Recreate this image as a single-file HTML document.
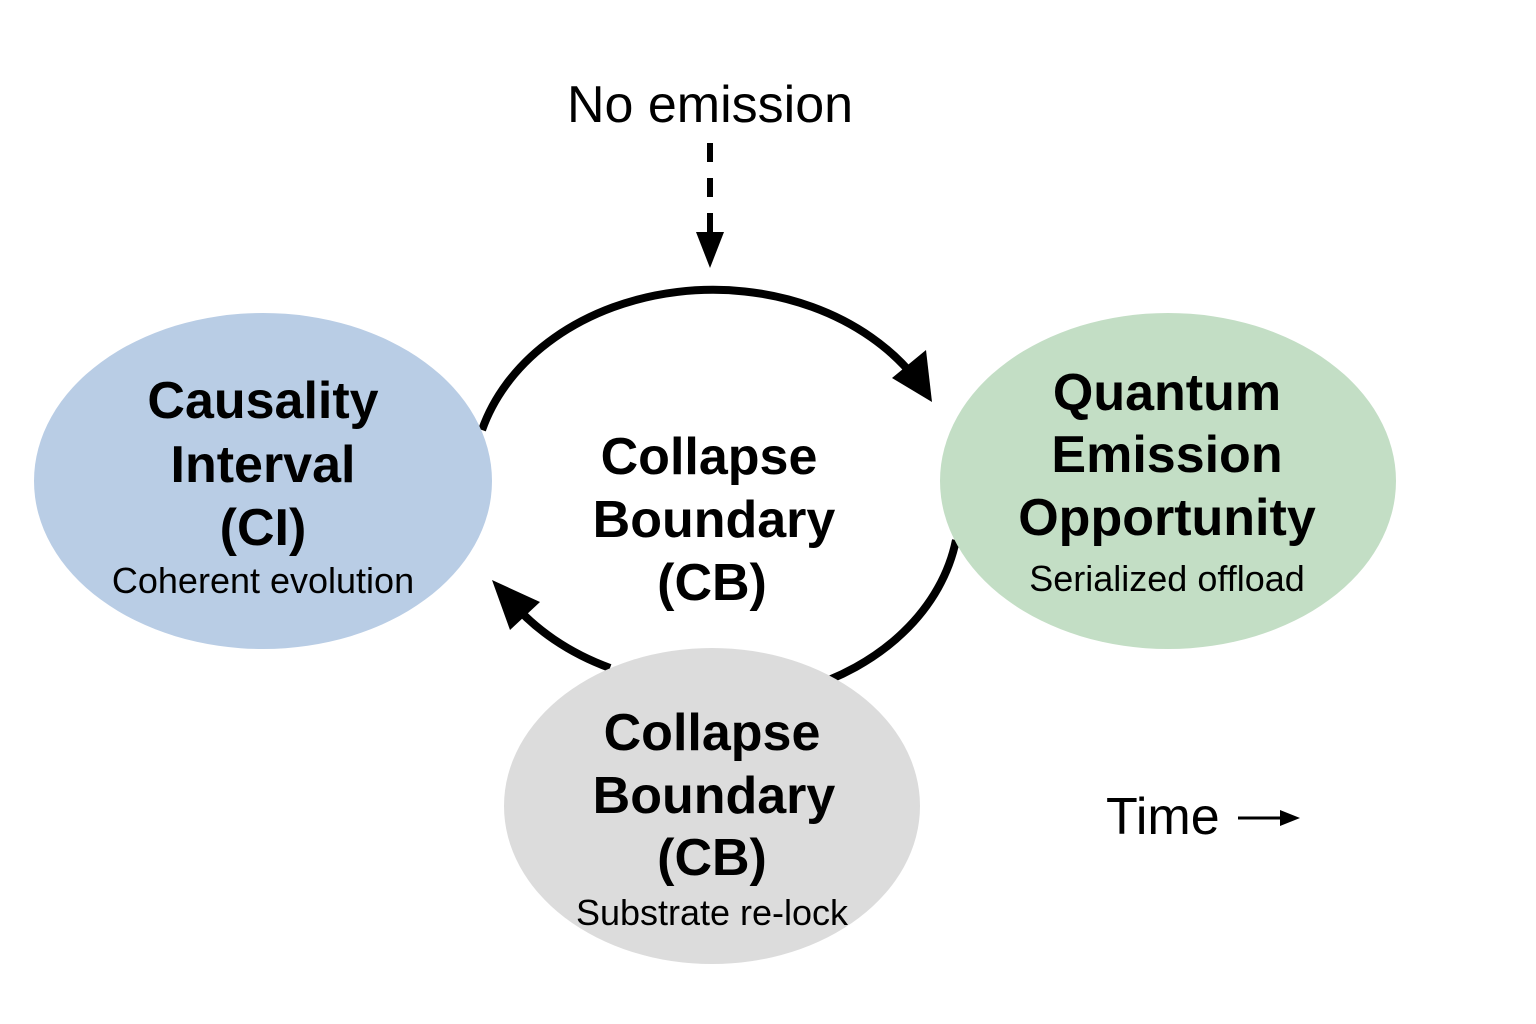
<!DOCTYPE html>
<html><head><meta charset="utf-8"><style>
html,body{margin:0;padding:0;background:#fff;width:1536px;height:1024px;overflow:hidden}
text{font-family:"Liberation Sans",sans-serif;fill:#000}
.b{font-weight:bold;font-size:52px}
.s{font-size:36px}
</style></head><body>
<svg width="1536" height="1024" viewBox="0 0 1536 1024">
<path d="M482,430 A240,192 0 0 1 915,378" fill="none" stroke="#000" stroke-width="8"/>
<polygon points="932,402 892,378 926,350" fill="#000"/>
<path d="M956,540 A240,192 0 0 1 800,690" fill="none" stroke="#000" stroke-width="8"/>
<path d="M610,668 A240,192 0 0 1 510,600" fill="none" stroke="#000" stroke-width="8"/>
<polygon points="492,580 540,602 510,630" fill="#000"/>
<ellipse cx="263" cy="481" rx="229" ry="168" fill="#b9cde5"/>
<ellipse cx="1168" cy="481" rx="228" ry="168" fill="#c3dec5"/>
<ellipse cx="712" cy="806" rx="208" ry="158" fill="#dcdcdc"/>
<line x1="710" y1="143" x2="710" y2="234" stroke="#000" stroke-width="6" stroke-dasharray="19,16"/>
<polygon points="696,232 724,232 710,268" fill="#000"/>
<text x="710" y="122" font-size="52" text-anchor="middle">No emission</text>
<g text-anchor="middle">
<text class="b" x="263" y="418">Causality</text>
<text class="b" x="263" y="482">Interval</text>
<text class="b" x="263" y="545">(CI)</text>
<text class="s" x="263" y="593">Coherent evolution</text>
<text class="b" x="709" y="474">Collapse</text>
<text class="b" x="714" y="537">Boundary</text>
<text class="b" x="712" y="600">(CB)</text>
<text class="b" x="1167" y="410">Quantum</text>
<text class="b" x="1167" y="472">Emission</text>
<text class="b" x="1167" y="535">Opportunity</text>
<text class="s" x="1167" y="591">Serialized offload</text>
<text class="b" x="712" y="750">Collapse</text>
<text class="b" x="714" y="813">Boundary</text>
<text class="b" x="712" y="875">(CB)</text>
<text class="s" x="712" y="925">Substrate re-lock</text>
</g>
<text x="1106" y="834" font-size="52">Time</text>
<line x1="1238" y1="818" x2="1290" y2="818" stroke="#000" stroke-width="3"/>
<polygon points="1300,818 1280,810 1280,826" fill="#000"/>
</svg>
</body></html>
